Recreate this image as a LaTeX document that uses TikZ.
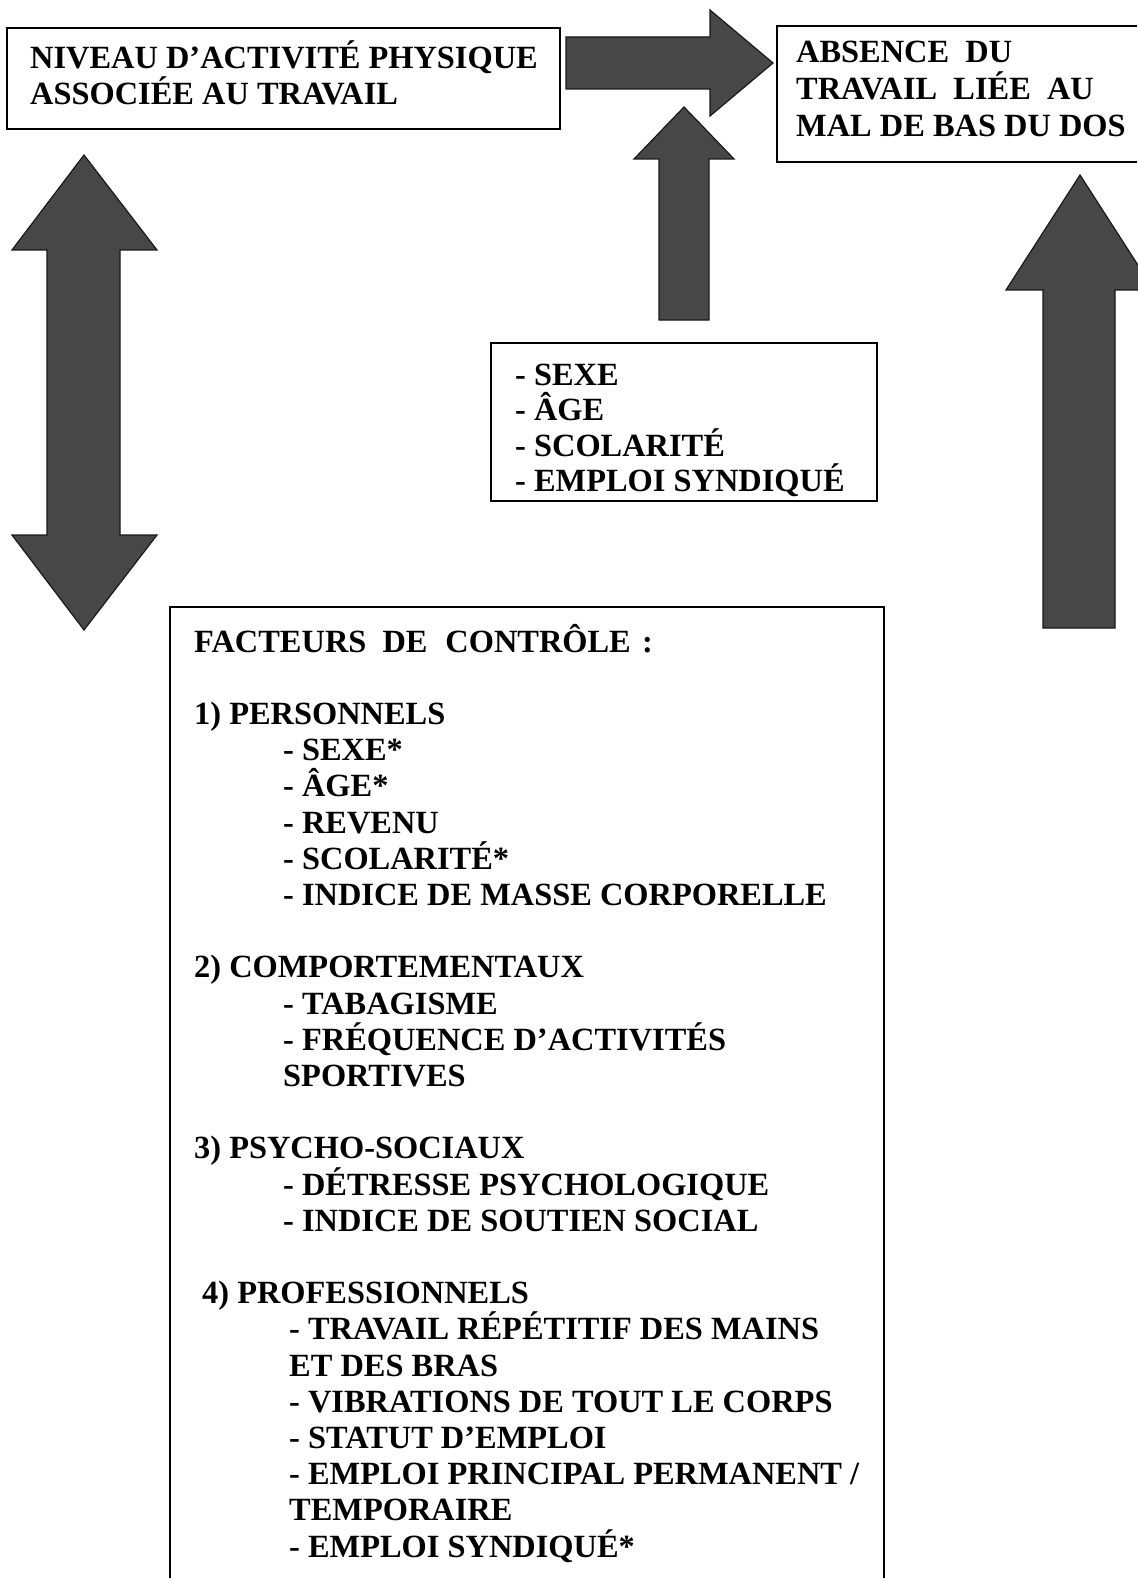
\documentclass[tikz,border=0pt]{standalone}
\usepackage{fontspec}
\setmainfont{Liberation Serif}
\begin{document}
\begin{tikzpicture}[x=1pt,y=-1pt,
  txt/.style={anchor=base west, inner sep=0pt, font=\fontsize{32.4}{36}\selectfont\bfseries},
  frame/.style={draw=black, line width=2pt},
  blockarrow/.style={fill=black!72, draw=black!90, line width=1.2pt, line join=miter}]
\useasboundingbox (0,0) rectangle (1137,1578);

% ---- boxes ----
\draw[frame] (7,28) rectangle (560,129);
\draw[frame] (1137,26) -- (777,26) -- (777,162) -- (1137,162);
\draw[frame] (491,343) rectangle (877,501);
\draw[frame] (170,1580) -- (170,607) -- (884,607) -- (884,1580);

% ---- block arrows ----
% horizontal arrow
\draw[blockarrow] (566,37) -- (710,37) -- (710,10) -- (773,63) -- (710,116) -- (710,89) -- (566,89) -- cycle;
% middle up arrow
\draw[blockarrow] (659,320) -- (659,159) -- (634,159) -- (684,107) -- (734,159) -- (709,159) -- (709,320) -- cycle;
% right up arrow
\draw[blockarrow] (1043,628) -- (1043,290) -- (1006,290) -- (1080,175) -- (1154,290) -- (1115,290) -- (1115,628) -- cycle;
% left double arrow
\draw[blockarrow] (47,250) -- (12,250) -- (84,155) -- (157,250) -- (120,250) -- (120,535) -- (157,535) -- (84,630) -- (12,535) -- (47,535) -- cycle;

% ---- top-left box text ----
\node[txt] (a1) at (30,69) {NIVEAU D’ACTIVITÉ PHYSIQUE};
\node[txt] (a2) at (30,105) {ASSOCIÉE AU TRAVAIL};

% ---- right box text ----
\node[txt] (b1) at (796,63) {ABSENCE\ \ DU};
\node[txt] (b2) at (796,100) {TRAVAIL\ \ LIÉE\ \ AU};
\node[txt] (b3) at (796,137) {MAL DE BAS DU DOS};

% ---- middle box text ----
\node[txt] (c1) at (515,385) {- SEXE};
\node[txt] (c2) at (515,420.5) {- ÂGE};
\node[txt] (c3) at (515,456) {- SCOLARITÉ};
\node[txt] (c4) at (515,491) {- EMPLOI SYNDIQUÉ};

% ---- bottom box text ----
\node[txt] (d0) at (194,652) {FACTEURS\hspace{0.5em}DE\hspace{0.55em}CONTRÔLE\hspace{0.35em}:};
\node[txt] (d1) at (194,724.4) {1) PERSONNELS};
\node[txt] (d2) at (283,760.6) {- SEXE*};
\node[txt] (d3) at (283,796.8) {- ÂGE*};
\node[txt] (d4) at (283,833) {- REVENU};
\node[txt] (d5) at (283,869.2) {- SCOLARITÉ*};
\node[txt] (d6) at (283,905.4) {- INDICE DE MASSE CORPORELLE};
\node[txt] (d7) at (194,977.8) {2) COMPORTEMENTAUX};
\node[txt] (d8) at (283,1014) {- TABAGISME};
\node[txt] (d9) at (283,1050.2) {- FRÉQUENCE D’ACTIVITÉS};
\node[txt] (d10) at (283,1086.4) {SPORTIVES};
\node[txt] (d11) at (194,1158.8) {3) PSYCHO-SOCIAUX};
\node[txt] (d12) at (283,1195) {- DÉTRESSE PSYCHOLOGIQUE};
\node[txt] (d13) at (283,1231.2) {- INDICE DE SOUTIEN SOCIAL};
\node[txt] (d14) at (202,1303.6) {4) PROFESSIONNELS};
\node[txt] (d15) at (289,1339.8) {- TRAVAIL RÉPÉTITIF DES MAINS};
\node[txt] (d16) at (289,1376) {ET DES BRAS};
\node[txt] (d17) at (289,1412.2) {- VIBRATIONS DE TOUT LE CORPS};
\node[txt] (d18) at (289,1448.4) {- STATUT D’EMPLOI};
\node[txt] (d19) at (289,1484.6) {- EMPLOI PRINCIPAL PERMANENT /};
\node[txt] (d20) at (289,1520.8) {TEMPORAIRE};
\node[txt] (d21) at (289,1557) {- EMPLOI SYNDIQUÉ*};
\end{tikzpicture}
\end{document}
